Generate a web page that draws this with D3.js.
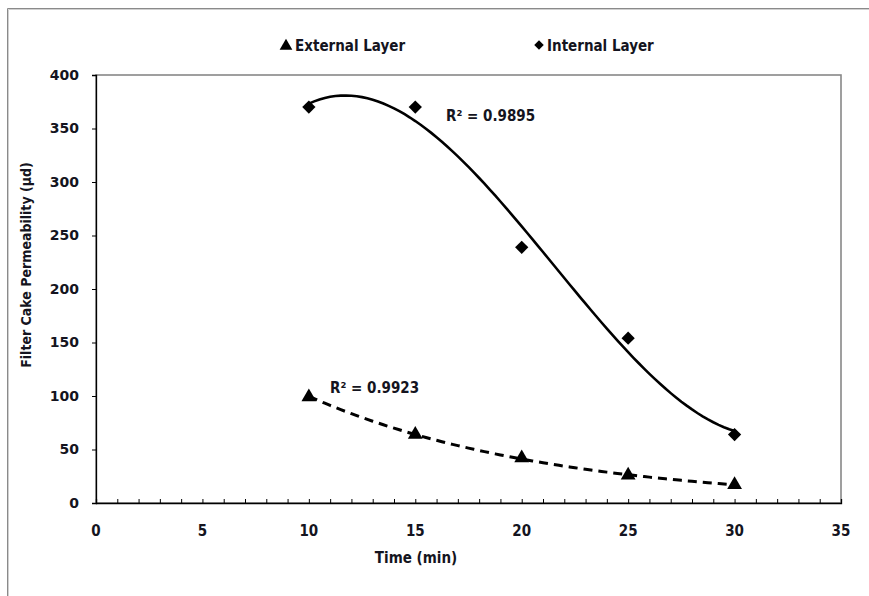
<!DOCTYPE html>
<html>
<head>
<meta charset="utf-8">
<script src="https://cdn.jsdelivr.net/npm/d3@7"></script>
<style>
  body { margin: 0; background: #fff; }
  svg { display: block; }
</style>
</head>
<body>
<svg id="chart" width="869" height="596"></svg>
<script>
// values
const times = [10, 15, 20, 25, 30];
const externalLayer = [99, 64, 42, 26, 17];
const internalLayer = [370, 370, 239, 154, 64];
const xTicks = [0, 5, 10, 15, 20, 25, 30, 35];
const yTicks = [0, 50, 100, 150, 200, 250, 300, 350, 400];
const r2Labels = ["R² = 0.9895", "R² = 0.9923"];

const svg = d3.select("#chart");
const x = d3.scaleLinear().domain([0, 35]).range([96, 841]);
const y = d3.scaleLinear().domain([0, 400]).range([503, 75]);
const condensed = "DejaVu Sans Condensed, DejaVu Sans";
const ink = "#141420";

// outer frame
svg.append("path").attr("d", "M7.5,596 V8.5 H869").attr("fill", "none").attr("stroke", "#8a8a8a");
svg.append("path").attr("d", "M8.5,596 V9.5 H869").attr("fill", "none").attr("stroke", "#d0d0d0");

// plot area border
svg.append("rect")
    .attr("x", x(0)).attr("y", y(400))
    .attr("width", x(35) - x(0)).attr("height", y(0) - y(400))
    .attr("fill", "none").attr("stroke", "#888").attr("stroke-width", 1.6);

// y axis
const yAxis = svg.append("g")
    .attr("transform", `translate(${x(0)},0)`)
    .call(d3.axisLeft(y).tickValues(yTicks).tickSize(4).tickPadding(13));
yAxis.select(".domain").attr("stroke", "#000").attr("stroke-width", 1.3);
yAxis.selectAll("text")
    .attr("font-family", "DejaVu Sans").attr("font-weight", "bold")
    .attr("font-size", 14).attr("fill", ink);

// x axis, ticks every minute pointing inward
const xAxis = svg.append("g")
    .attr("transform", `translate(0,${y(0)})`)
    .call(d3.axisBottom(x).tickValues(d3.range(0, 36, 1)).tickSize(-4).tickFormat(""));
xAxis.select(".domain").attr("stroke", "#000").attr("stroke-width", 1.3);
svg.append("g").selectAll("text")
    .data(xTicks)
    .join("text")
    .attr("x", d => x(d))
    .attr("y", y(0) + 33)
    .attr("text-anchor", "middle")
    .attr("font-family", condensed)
    .attr("font-weight", "bold").attr("font-size", 15).attr("fill", ink)
    .text(d => d);

// axis titles
svg.append("text")
    .attr("transform", "translate(31,265) rotate(-90)")
    .attr("text-anchor", "middle")
    .attr("font-family", condensed).attr("font-weight", "bold")
    .attr("font-size", 14).attr("fill", ink)
    .text("Filter Cake Permeability (µd)");
svg.append("text")
    .attr("x", 416).attr("y", 563)
    .attr("text-anchor", "middle")
    .attr("font-family", condensed).attr("font-weight", "bold")
    .attr("font-size", 15).attr("fill", ink)
    .text("Time (min)");

// least squares fits, like the spreadsheet trendlines
function polyFit(xs, ys, order) {
    const n = order + 1;
    const A = [];
    for (let i = 0; i < n; i++) {
        A.push([]);
        for (let j = 0; j < n; j++) A[i].push(d3.sum(xs, v => Math.pow(v, i + j)));
        A[i].push(d3.sum(xs, (v, k) => Math.pow(v, i) * ys[k]));
    }
    for (let i = 0; i < n; i++) {
        let p = i;
        for (let r = i + 1; r < n; r++) if (Math.abs(A[r][i]) > Math.abs(A[p][i])) p = r;
        [A[i], A[p]] = [A[p], A[i]];
        for (let r = 0; r < n; r++) {
            if (r === i) continue;
            const f = A[r][i] / A[i][i];
            for (let c = i; c <= n; c++) A[r][c] -= f * A[i][c];
        }
    }
    const coef = A.map((row, i) => row[n] / row[i]);
    return v => coef.reduce((s, c, i) => s + c * Math.pow(v, i), 0);
}
function expFit(xs, ys) {
    const lin = polyFit(xs, ys.map(Math.log), 1);
    return v => Math.exp(lin(v));
}

const cubic = polyFit(times, internalLayer, 3);
const expo = expFit(times, externalLayer);
const xs = d3.range(10, 30.01, 0.25);
const line = d3.line().x(d => x(d[0])).y(d => y(d[1]));

svg.append("path")
    .attr("d", line(xs.map(v => [v, cubic(v)])))
    .attr("fill", "none").attr("stroke", "#000").attr("stroke-width", 2.6);
svg.append("path")
    .attr("d", line(xs.map(v => [v, expo(v)])))
    .attr("fill", "none").attr("stroke", "#000").attr("stroke-width", 3)
    .attr("stroke-dasharray", "9,6");

// markers
svg.append("g").selectAll("path")
    .data(times.map((t, i) => [t, internalLayer[i]]))
    .join("path")
    .attr("transform", d => `translate(${x(d[0])},${y(d[1])}) rotate(45)`)
    .attr("d", d3.symbol(d3.symbolSquare, 88)())
    .attr("fill", "#000");
svg.append("g").selectAll("path")
    .data(times.map((t, i) => [t, externalLayer[i]]))
    .join("path")
    .attr("transform", d => `translate(${x(d[0])},${y(d[1])})`)
    .attr("d", d3.symbol(d3.symbolTriangle, 95)())
    .attr("fill", "#000");

// R² labels
svg.append("text")
    .attr("x", 446).attr("y", 121)
    .attr("font-family", condensed).attr("font-weight", "bold")
    .attr("font-size", 15).attr("fill", ink)
    .text(r2Labels[0]);
svg.append("text")
    .attr("x", 330).attr("y", 393)
    .attr("font-family", condensed).attr("font-weight", "bold")
    .attr("font-size", 15).attr("fill", ink)
    .text(r2Labels[1]);

// legend
const legend = svg.append("g");
legend.append("path")
    .attr("transform", "translate(286,46)")
    .attr("d", d3.symbol(d3.symbolTriangle, 70)())
    .attr("fill", "#000");
legend.append("text")
    .attr("x", 295).attr("y", 51)
    .attr("font-family", condensed).attr("font-weight", "bold")
    .attr("font-size", 15).attr("fill", ink)
    .text("External Layer");
legend.append("path")
    .attr("transform", "translate(539,45) rotate(45)")
    .attr("d", d3.symbol(d3.symbolSquare, 45)())
    .attr("fill", "#000");
legend.append("text")
    .attr("x", 547).attr("y", 51)
    .attr("font-family", condensed).attr("font-weight", "bold")
    .attr("font-size", 15).attr("fill", ink)
    .text("Internal Layer");
</script>
</body>
</html>
